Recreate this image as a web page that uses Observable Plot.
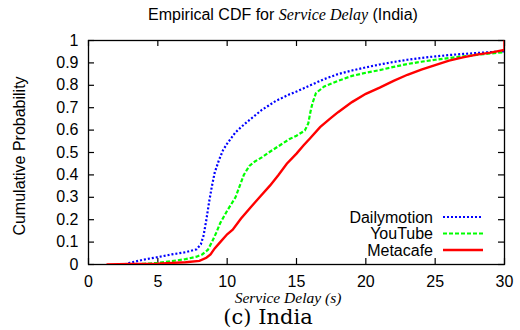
<!DOCTYPE html>
<html><head><meta charset="utf-8">
<script src="https://cdn.jsdelivr.net/npm/d3@7"></script>
<script src="https://cdn.jsdelivr.net/npm/@observablehq/plot@0.6"></script>
<style>body{margin:0;background:#fff}</style>
</head><body><div id="chart"></div>
<script>
// ---- data ----
const seriesNames = ["Dailymotion", "YouTube", "Metacafe"];
const seriesColors = ["#0000ff", "#00ff00", "#ff0000"];

const dailymotionX = [2.6, 3, 4, 5, 6, 7, 7.8, 8.1, 8.3, 8.5, 8.7, 8.9, 9.1, 9.4, 9.7, 10, 10.3, 10.6, 11, 11.5, 12, 12.5, 13, 13.5, 14, 14.5, 15, 16, 17, 18, 19, 20, 21, 22, 23, 24, 25, 26, 27, 28, 29, 30];
const dailymotionY = [0, 0.008, 0.022, 0.033, 0.045, 0.055, 0.068, 0.09, 0.13, 0.2, 0.28, 0.35, 0.41, 0.465, 0.51, 0.54, 0.565, 0.59, 0.613, 0.64, 0.665, 0.69, 0.71, 0.73, 0.745, 0.76, 0.772, 0.8, 0.828, 0.85, 0.866, 0.88, 0.893, 0.904, 0.914, 0.922, 0.929, 0.935, 0.94, 0.944, 0.948, 0.952];

const youtubeX = [3, 4, 5, 6, 7, 7.8, 8.2, 8.6, 8.9, 9.2, 9.5, 10, 10.3, 10.6, 10.9, 11.2, 11.6, 12, 12.5, 13, 13.5, 14, 14.5, 15, 15.6, 15.85, 16.0, 16.15, 16.4, 17, 18, 19, 20, 21, 22, 23, 24, 25, 26, 27, 28, 29, 30];
const youtubeY = [0, 0.003, 0.007, 0.015, 0.024, 0.035, 0.045, 0.065, 0.1, 0.14, 0.185, 0.24, 0.27, 0.3, 0.35, 0.4, 0.44, 0.46, 0.478, 0.5, 0.52, 0.54, 0.56, 0.575, 0.598, 0.63, 0.68, 0.72, 0.765, 0.795, 0.82, 0.842, 0.856, 0.868, 0.882, 0.895, 0.905, 0.914, 0.922, 0.929, 0.936, 0.942, 0.948];

const metacafeX = [1.3, 3, 5, 6, 7, 8, 8.5, 8.8, 9.1, 9.5, 10, 10.4, 11, 11.7, 12.4, 13.1, 13.7, 14.3, 15, 15.5, 16, 16.7, 17.4, 18, 19, 20, 21, 22, 23, 24, 25, 26, 27, 28, 29, 30, 30];
const metacafeY = [0, 0.002, 0.004, 0.007, 0.01, 0.016, 0.03, 0.045, 0.072, 0.1, 0.135, 0.155, 0.205, 0.256, 0.305, 0.353, 0.4, 0.45, 0.495, 0.531, 0.565, 0.613, 0.65, 0.68, 0.725, 0.762, 0.79, 0.82, 0.847, 0.87, 0.89, 0.91, 0.925, 0.937, 0.946, 0.958, 1.0];

const xTicks = [0, 5, 10, 15, 20, 25, 30];
const yTicks = [0, 0.1, 0.2, 0.3, 0.4, 0.5, 0.6, 0.7, 0.8, 0.9, 1];
const yTickLabels = ["0", "0.1", "0.2", "0.3", "0.4", "0.5", "0.6", "0.7", "0.8", "0.9", "1"];

const titleParts = ["Empirical CDF for ", "Service Delay", " (India)"];
const xLabel = "Service Delay (s)";
const yLabel = "Cumulative Probability";
const caption = "(c) India";

// ---- build ----
const toRows = (xs, ys, s) => xs.map((x, i) => ({x, y: ys[i], s}));
const rows = [
  toRows(dailymotionX, dailymotionY, seriesNames[0]),
  toRows(youtubeX, youtubeY, seriesNames[1]),
  toRows(metacafeX, metacafeY, seriesNames[2])
];
const dashes = ["2,2", "4,2", null];
const widths = [2.2, 2.2, 2.4];

const W = 520, H = 330, mL = 88, mR = 16, mT = 40, mB = 66;
const pw = W - mL - mR, ph = H - mT - mB, tl = 6;
const xDomain = [0, 30], yDomain = [0, 1];
const ty = tl / ph * (yDomain[1] - yDomain[0]);
const tx = tl / pw * (xDomain[1] - xDomain[0]);
const sans = "'Liberation Sans', Arial, Helvetica, sans-serif";
const serif = "'Liberation Serif', 'Times New Roman', serif";

const plot = Plot.plot({
  width: W, height: H,
  marginLeft: mL, marginRight: mR, marginTop: mT, marginBottom: mB,
  x: {domain: xDomain},
  y: {domain: yDomain},
  style: {fontFamily: sans, fontSize: "16px", background: "#fff", color: "#000"},
  marks: [
    Plot.axisX(xTicks, {tickSize: 0, tickPadding: 11, label: null}),
    Plot.axisY(yTicks, {tickSize: 0, tickPadding: 10, label: null, tickFormat: d => yTickLabels[yTicks.indexOf(d)]}),
    Plot.ruleX(xTicks, {x: d => d, y1: yDomain[0], y2: yDomain[0] + ty, stroke: "#000", strokeWidth: 1.2}),
    Plot.ruleX(xTicks, {x: d => d, y1: yDomain[1] - ty, y2: yDomain[1], stroke: "#000", strokeWidth: 1.2}),
    Plot.ruleY(yTicks, {y: d => d, x1: xDomain[0], x2: xDomain[0] + tx, stroke: "#000", strokeWidth: 1.2}),
    Plot.ruleY(yTicks, {y: d => d, x1: xDomain[1] - tx, x2: xDomain[1], stroke: "#000", strokeWidth: 1.2}),
    Plot.frame({stroke: "#000", strokeWidth: 1.3}),
    ...rows.map((r, i) => Plot.line(r, {
      x: "x", y: "y", stroke: seriesColors[i], strokeWidth: widths[i],
      strokeDasharray: dashes[i] ?? undefined,
      strokeLinecap: "butt", strokeLinejoin: "miter", strokeMiterlimit: 4,
      clip: true, curve: "linear"
    }))
  ]
});

document.getElementById("chart").appendChild(plot);
const svg = d3.select(plot);

// title
const t = svg.append("text").attr("x", 283).attr("y", 20).attr("text-anchor", "middle")
  .style("font-family", sans).style("font-size", "16px").style("white-space", "pre").attr("fill", "#000");
t.append("tspan").text(titleParts[0]);
t.append("tspan").style("font-family", serif).style("font-style", "italic").text(titleParts[1]);
t.append("tspan").text(titleParts[2]);

// y label
svg.append("text").attr("transform", "translate(19,156) rotate(-90)").attr("text-anchor", "middle")
  .attr("dominant-baseline", "central").style("font-family", sans).style("font-size", "16px").attr("fill", "#000").text(yLabel);

// x label
svg.append("text").attr("x", 288).attr("y", 303).attr("text-anchor", "middle")
  .style("font-family", serif).style("font-style", "italic").style("font-size", "15.5px").attr("fill", "#000").text(xLabel);

// caption
svg.append("text").attr("x", 268).attr("y", 324).attr("text-anchor", "middle")
  .style("font-family", "'DejaVu Serif', serif").style("font-size", "21px").attr("fill", "#000").text(caption);

// legend
const lg = svg.append("g");
const baseY = [222.5, 239, 255.5];
seriesNames.forEach((n, i) => {
  lg.append("text").attr("x", 433).attr("y", baseY[i]).attr("text-anchor", "end")
    .style("font-family", sans).style("font-size", "16px").attr("fill", "#000").text(n);
  lg.append("line").attr("x1", 443).attr("x2", 483).attr("y1", baseY[i] - 5.5).attr("y2", baseY[i] - 5.5)
    .attr("stroke", seriesColors[i]).attr("stroke-width", widths[i])
    .style("stroke-dasharray", dashes[i] || "none");
});
</script>
</body></html>
